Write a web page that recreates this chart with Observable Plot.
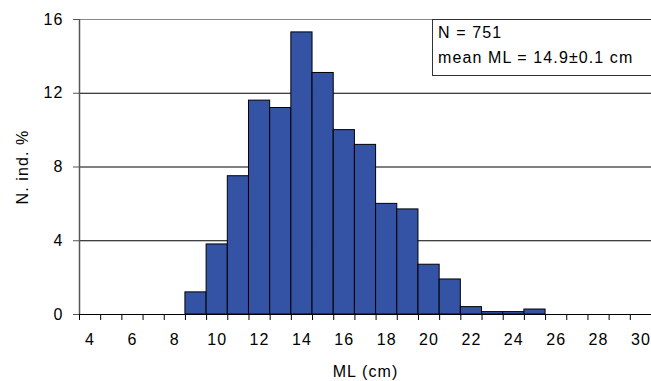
<!DOCTYPE html>
<html><head><meta charset="utf-8">
<script src="https://cdn.jsdelivr.net/npm/d3@7"></script>
<script src="https://cdn.jsdelivr.net/npm/@observablehq/plot@0.6"></script>
<style>
body{margin:0;background:#fff;overflow:hidden;}
#wrap{position:relative;width:651px;height:381px;overflow:hidden;}
#note{position:absolute;left:432px;top:19px;width:240px;height:57px;border:1px solid #333;font:16px "Liberation Sans",Arial,sans-serif;letter-spacing:1.1px;line-height:25px;padding-left:5px;box-sizing:border-box;color:#000;background:#fff;}
</style></head><body><div id="wrap"></div>
<script>
// ML size classes (cm) and percentage of individuals
const mlClasses = [9, 10, 11, 12, 13, 14, 15, 16, 17, 18, 19, 20, 21, 22, 23, 24, 25];
const percents = [1.2, 3.8, 7.5, 11.6, 11.2, 15.3, 13.1, 10.0, 9.2, 6.0, 5.7, 2.7, 1.9, 0.4, 0.13, 0.13, 0.27];
const xCategories = [4,5,6,7,8,9,10,11,12,13,14,15,16,17,18,19,20,21,22,23,24,25,26,27,28,29,30];
const xTickLabels = [4,6,8,10,12,14,16,18,20,22,24,26,28,30];
const yTicks = [0, 4, 8, 12, 16];
const gridValues = [4, 8, 12];
const noteLines = ["N = 751", "mean ML = 14.9±0.1 cm"];
const xTitle = "ML (cm)";
const yTitle = "N. ind. %";

const bars = mlClasses.map((ml, i) => ({ml, pct: percents[i]}));
const boundaries = xCategories.map(c => c - 0.5).concat([xCategories[xCategories.length - 1] + 0.5]);

const chart = Plot.plot({
  width: 651,
  height: 381,
  marginLeft: 79,
  marginRight: 0,
  marginTop: 19,
  marginBottom: 67,
  style: {fontFamily: "'Liberation Sans', Arial, sans-serif", fontSize: "16px", letterSpacing: "1.1px", background: "#fff", color: "#000"},
  x: {domain: [boundaries[0], boundaries[boundaries.length - 1]]},
  y: {domain: [0, 16]},
  marks: [
    Plot.ruleY(gridValues, {stroke: "#000", strokeWidth: 1}),
    Plot.ruleY([16], {stroke: "#888", strokeWidth: 1}),
    Plot.rectY(bars, {x1: d => d.ml - 0.5, x2: d => d.ml + 0.5, y: "pct", fill: "#3553a5", stroke: "#000", strokeWidth: 1}),
    Plot.ruleX([boundaries[0]], {stroke: "#555", strokeWidth: 1.5}),
    Plot.ruleY([0], {stroke: "#000", strokeWidth: 1.2}),
    Plot.axisX({ticks: boundaries, tickFormat: () => "", tickSize: 6, stroke: "#000", label: null}),
    Plot.axisX({ticks: xTickLabels, tickSize: 0, tickPadding: 19, label: null}),
    Plot.axisY({ticks: yTicks, tickSize: 6, tickPadding: 10, stroke: "#555", label: null}),
    Plot.text([yTitle], {text: d => d, frameAnchor: "left", textAnchor: "middle", rotate: -90, dx: -57}),
    Plot.text([xTitle], {text: d => d, frameAnchor: "bottom", dy: 62})
  ]
});
const wrap = document.getElementById("wrap");
wrap.appendChild(chart);
const note = document.createElement("div");
note.id = "note";
note.innerHTML = noteLines.map(t => `<div>${t}</div>`).join("");
wrap.appendChild(note);
</script></body></html>
